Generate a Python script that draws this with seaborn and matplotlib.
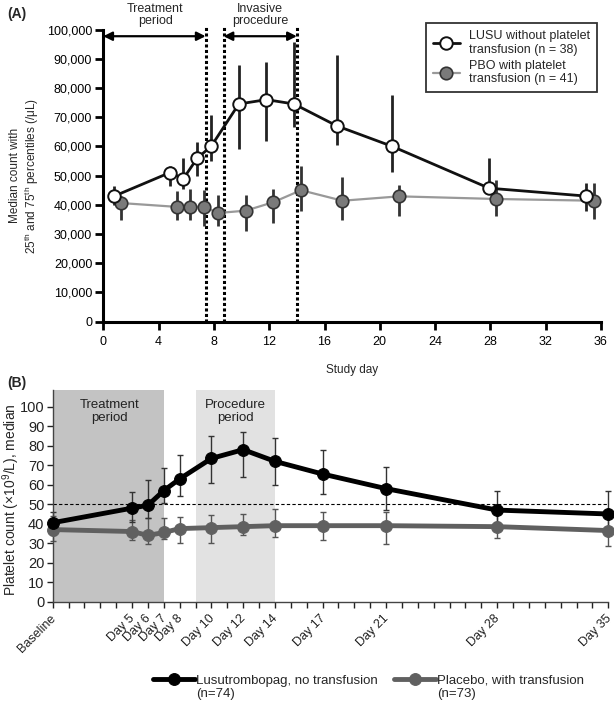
import matplotlib
matplotlib.use("Agg")
import matplotlib.pyplot as plt
import seaborn as sns
import numpy as np
import pandas as pd

# ---------------- Panel A data ----------------
a_lusu_day = [0.8, 4.8, 5.8, 6.8, 7.8, 9.8, 11.8, 13.8, 16.9, 20.9, 27.9, 34.9]
a_lusu_med = [43000, 51000, 49000, 56000, 60000, 74500, 76000, 74500, 67000, 60000, 45700, 43000]
a_lusu_p25 = [40000, 46300, 45500, 49800, 54900, 59200, 61700, 66800, 60400, 51100, 44000, 37800]
a_lusu_p75 = [46300, 53200, 56000, 61500, 70900, 87800, 88800, 95600, 91400, 77500, 56000, 47500]

a_pbo_day = [1.3, 5.3, 6.3, 7.3, 8.3, 10.3, 12.3, 14.3, 17.3, 21.4, 28.4, 35.5]
a_pbo_med = [40600, 39300, 39300, 39300, 37200, 38000, 40900, 45000, 41400, 42900, 42000, 41400]
a_pbo_p25 = [34900, 34700, 34700, 32600, 32900, 30900, 33800, 37800, 34700, 36300, 36300, 35200]
a_pbo_p75 = [43000, 44600, 45400, 45200, 43500, 43500, 45400, 53400, 49500, 46900, 48600, 47500]

a_vlines = [7.4, 8.7, 14.0]
a_treat_span = [0, 7.4]
a_proc_span = [8.7, 14.0]

# ---------------- Panel B data ----------------
b_days = [0, 5, 6, 7, 8, 10, 12, 14, 17, 21, 28, 35]
b_labels = ["Baseline", "Day 5", "Day 6", "Day 7", "Day 8", "Day 10", "Day 12",
            "Day 14", "Day 17", "Day 21", "Day 28", "Day 35"]
b_lusu_med = [40.5, 48, 49.5, 57, 63, 73.5, 78, 72, 65.5, 58, 47, 45]
b_lusu_lo = [34, 41, 43, 50.5, 54, 61, 64, 60, 55, 47, 41, 38]
b_lusu_hi = [46, 56.5, 62.5, 68.5, 75, 85, 87, 84, 78, 69, 57, 57]
b_pbo_med = [37, 36, 34, 35.5, 37.5, 38, 38.5, 39, 39, 39, 38.5, 36.5]
b_pbo_lo = [31, 31.5, 29.5, 32, 30, 30, 34, 33, 31.5, 29.5, 32.5, 28.5]
b_pbo_hi = [44, 42, 43, 43, 43.5, 44.5, 45, 47.5, 46, 46, 45, 44]
b_treat_span = [0, 7]
b_proc_span = [9, 14]

sns.set_theme(style="ticks")
plt.rcParams["font.family"] = ["Liberation Sans", "DejaVu Sans"]
plt.rcParams["mathtext.default"] = "regular"

W, H = 614, 703
fig = plt.figure(figsize=(W / 100, H / 100), dpi=100)

# ================= Panel A =================
ax1 = fig.add_axes([103.3 / W, 1 - 321.7 / H, (601 - 103.3) / W, (321.7 - 29.5) / H])

dfa1 = pd.DataFrame({"day": a_lusu_day, "val": a_lusu_med})
dfa2 = pd.DataFrame({"day": a_pbo_day, "val": a_pbo_med})

ax1.errorbar(a_pbo_day, a_pbo_med,
             yerr=[np.array(a_pbo_med) - np.array(a_pbo_p25), np.array(a_pbo_p75) - np.array(a_pbo_med)],
             fmt="none", ecolor="#333333", elinewidth=2, capsize=0, zorder=2, clip_on=False)
sns.lineplot(data=dfa2, x="day", y="val", ax=ax1, color="#999999", lw=1.6, zorder=3,
             marker="o", markersize=9, markerfacecolor="#7a7a7a", markeredgecolor="#333333",
             markeredgewidth=1.2, label="PBO with platelet\ntransfusion (n = 41)", clip_on=False)
ax1.errorbar(a_lusu_day, a_lusu_med,
             yerr=[np.array(a_lusu_med) - np.array(a_lusu_p25), np.array(a_lusu_p75) - np.array(a_lusu_med)],
             fmt="none", ecolor="#222222", elinewidth=2, capsize=0, zorder=4, clip_on=False)
sns.lineplot(data=dfa1, x="day", y="val", ax=ax1, color="#111111", lw=2, zorder=5,
             marker="o", markersize=9, markerfacecolor="white", markeredgecolor="#111111",
             markeredgewidth=1.4, label="LUSU without platelet\ntransfusion (n = 38)", clip_on=False)

for xv in a_vlines:
    ax1.plot([xv, xv], [0, 100700], color="black", lw=2.2, ls=(0, (1, 0.8)), clip_on=False, zorder=1)

for span in (a_treat_span, a_proc_span):
    ax1.annotate("", xy=(span[0], 97700), xytext=(span[1], 97700),
                 arrowprops=dict(arrowstyle="<|-|>", color="black", lw=1.6, mutation_scale=13,
                                 shrinkA=0, shrinkB=0), annotation_clip=False)
ax1.text(3.75, 105000, "Treatment\nperiod", ha="center", va="center", fontsize=9, linespacing=1.05)
ax1.text(11.35, 105000, "Invasive\nprocedure", ha="center", va="center", fontsize=9, linespacing=1.05)

ax1.set_xlim(0, 36)
ax1.set_ylim(0, 100000)
ax1.set_xticks(range(0, 37, 4))
ax1.set_yticks(range(0, 100001, 10000))
ax1.set_yticklabels([f"{v:,}" for v in range(0, 100001, 10000)])
for s in ["top", "right"]:
    ax1.spines[s].set_visible(False)
for s in ["left", "bottom"]:
    ax1.spines[s].set_linewidth(2.2)
    ax1.spines[s].set_color("black")
ax1.tick_params(axis="both", direction="out", length=6, width=2, labelsize=9, colors="black", pad=2)
ax1.tick_params(axis="x", pad=4)
ax1.set_xlabel("Study day", fontsize=8.5, labelpad=12)
ax1.set_ylabel("Median count with\n25$^{th}$ and 75$^{th}$ percentiles (/μL)", fontsize=8.5,
               linespacing=1.15)
ax1.yaxis.set_label_coords((41 - 103.3) / (601 - 103.3), 0.5)

h, l = ax1.get_legend_handles_labels()
leg = ax1.legend(h[::-1], l[::-1], loc="upper right", bbox_to_anchor=(603 / W, 1 - 17 / H),
                 bbox_transform=fig.transFigure, fontsize=9, frameon=True, fancybox=False,
                 handlelength=2.2, handletextpad=0.7, borderpad=0.55, labelspacing=0.3)
leg.get_frame().set_edgecolor("black")
leg.get_frame().set_linewidth(1.3)

fig.text(7 / W, 1 - 14 / H, "(A)", fontsize=10, fontweight="bold", va="center", ha="left")

# ================= Panel B =================
ylim_top = 108.6
ax2 = fig.add_axes([52.7 / W, 1 - 601.7 / H, (608.3 - 52.7) / W, (601.7 - 390) / H])

ax2.axvspan(b_treat_span[0], b_treat_span[1], color="#c3c3c3", lw=0, zorder=0)
ax2.axvspan(b_proc_span[0], b_proc_span[1], color="#e2e2e2", lw=0, zorder=0)
ax2.axhline(50, color="black", lw=0.8, ls=(0, (3, 2)), zorder=1)

dfb1 = pd.DataFrame({"day": b_days, "val": b_lusu_med})
dfb2 = pd.DataFrame({"day": b_days, "val": b_pbo_med})

ax2.errorbar(b_days, b_pbo_med,
             yerr=[np.array(b_pbo_med) - np.array(b_pbo_lo), np.array(b_pbo_hi) - np.array(b_pbo_med)],
             fmt="none", ecolor="#555555", elinewidth=1, capsize=2, capthick=1, zorder=2, clip_on=False)
ax2.errorbar(b_days, b_lusu_med,
             yerr=[np.array(b_lusu_med) - np.array(b_lusu_lo), np.array(b_lusu_hi) - np.array(b_lusu_med)],
             fmt="none", ecolor="#333333", elinewidth=1, capsize=2, capthick=1, zorder=2, clip_on=False)
sns.lineplot(data=dfb2, x="day", y="val", ax=ax2, color="#606060", lw=3.5, zorder=3,
             marker="o", markersize=8.5, markerfacecolor="#606060", markeredgecolor="#606060",
             label="Placebo, with transfusion\n(n=73)", clip_on=False)
sns.lineplot(data=dfb1, x="day", y="val", ax=ax2, color="black", lw=3.5, zorder=4,
             marker="o", markersize=8.5, markerfacecolor="black", markeredgecolor="black",
             label="Lusutrombopag, no transfusion\n(n=74)", clip_on=False)

ax2.text(3.6, 97.5, "Treatment\nperiod", ha="center", va="center", fontsize=9.5, color="#222222",
         linespacing=1.1)
ax2.text(11.5, 97.5, "Procedure\nperiod", ha="center", va="center", fontsize=9.5, color="#222222",
         linespacing=1.1)

ax2.set_xlim(0, 35)
ax2.set_ylim(0, ylim_top)
ax2.set_yticks(range(0, 101, 10))
ax2.set_xticks(range(0, 36))
lab_map = dict(zip(b_days, b_labels))
ax2.set_xticklabels([lab_map.get(d, "") for d in range(0, 36)], rotation=45, ha="right",
                    va="center_baseline", rotation_mode="anchor", fontsize=9)
for s in ["top", "right"]:
    ax2.spines[s].set_visible(False)
for s in ["left", "bottom"]:
    ax2.spines[s].set_linewidth(1)
    ax2.spines[s].set_color("#444444")
ax2.tick_params(axis="y", direction="out", length=4, width=1, labelsize=10.5, colors="#222222", pad=2)
ax2.tick_params(axis="x", direction="out", length=4, width=1, colors="#222222", pad=6)
ax2.set_xlabel("")
ax2.set_ylabel("Platelet count (×10$^{9}$/L), median", fontsize=10)
ax2.yaxis.set_label_coords((22 - 52.7) / (608.3 - 52.7), (601.7 - 500) / (601.7 - 390))

h2, l2 = ax2.get_legend_handles_labels()
leg2 = ax2.legend(h2[::-1], l2[::-1], loc="upper left", bbox_to_anchor=(146 / W, 1 - 668 / H),
                  bbox_transform=fig.transFigure, ncol=2, fontsize=9.5, frameon=False,
                  handlelength=3.2, handletextpad=0.1, columnspacing=1.2, borderpad=0,
                  alignment="left")
try:
    for col in leg2._legend_handle_box.get_children():
        for item in col.get_children():
            item.align = "top"
except Exception:
    pass

fig.text(7 / W, 1 - 383 / H, "(B)", fontsize=10, fontweight="bold", va="center", ha="left")

fig.savefig("out.png", dpi=100)
